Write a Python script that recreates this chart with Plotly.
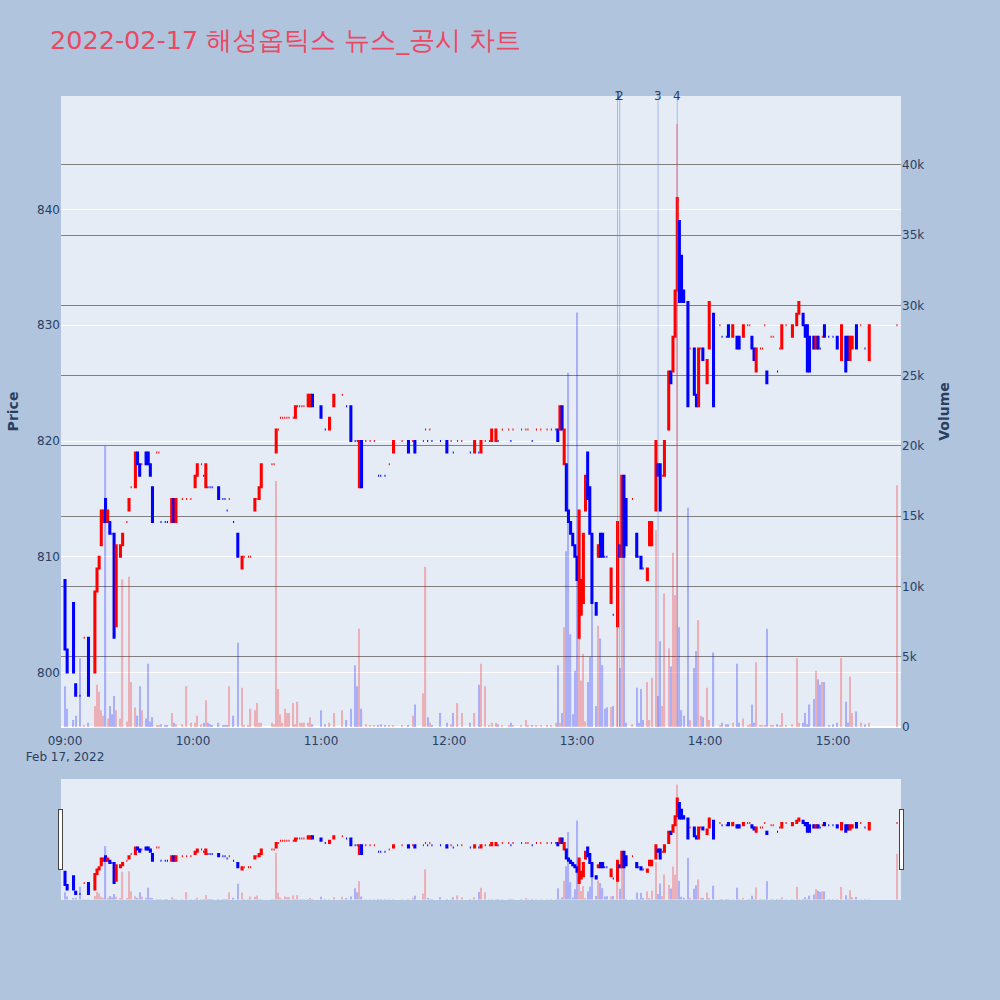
import plotly.graph_objects as go
from plotly.subplots import make_subplots

DATE = "2022-02-17"
TITLE = "2022-02-17 해성옵틱스 뉴스_공시 차트"

times = ["09:00","09:01","09:04","09:05","09:07","09:09","09:11","09:14","09:15","09:16","09:17","09:18","09:19","09:20","09:21","09:22","09:23","09:24","09:26","09:27","09:29","09:30","09:31","09:33","09:34","09:35","09:36","09:38","09:39","09:40","09:41","09:43","09:44","09:45","09:47","09:48","09:50","09:51","09:52","09:55","09:57","09:59",
         "10:01","10:02","10:04","10:05","10:06","10:07","10:08","10:09","10:12","10:14","10:15","10:16","10:17","10:19","10:21","10:23","10:24","10:26","10:27","10:29","10:30","10:31","10:32","10:37","10:38","10:39","10:40","10:41","10:42","10:43","10:44","10:45","10:47","10:48","10:49","10:50","10:51","10:52","10:54","10:55","10:56",
         "11:00","11:02","11:04","11:06","11:10","11:12","11:14","11:16","11:17","11:18","11:19","11:21","11:23","11:25","11:27","11:28","11:30","11:32","11:34","11:38","11:41","11:43","11:44","11:48","11:49","11:50","11:51","11:52","11:56","11:59",
         "12:01","12:02","12:04","12:06","12:10","12:12","12:14","12:15","12:17","12:19","12:20","12:22","12:23","12:25","12:28","12:29","12:30","12:34","12:36","12:37","12:39","12:41","12:43","12:46","12:48","12:50","12:51","12:52","12:53","12:54","12:55","12:56","12:57","12:58","12:59",
         "13:00","13:01","13:02","13:03","13:04","13:05","13:06","13:07","13:09","13:10","13:11","13:12","13:13","13:14","13:16","13:17","13:19","13:20","13:21","13:22","13:23","13:26","13:28","13:29","13:30","13:31","13:33","13:34","13:35","13:37","13:38","13:39","13:40","13:41","13:43","13:44","13:45","13:46","13:47","13:48","13:49","13:50","13:52","13:53","13:55","13:56","13:57","13:58","13:59",
         "14:01","14:02","14:04","14:07","14:08","14:10","14:11","14:13","14:15","14:16","14:18","14:20","14:21","14:22","14:23","14:24","14:26","14:27","14:28","14:29","14:31","14:32","14:34","14:35","14:36","14:38","14:41","14:43","14:44","14:46","14:47","14:48","14:49","14:51","14:52","14:53","14:54","14:55","14:56","14:58",
         "15:00","15:02","15:04","15:06","15:07","15:08","15:09","15:11","15:13","15:15","15:17","15:30"]

opens = [808,802,806,799,798,803,803,800,807,809,811,813,815,813,813,812,812,804,810,811,813,814,816,816,819,818,818,819,819,818,816,819,819,813,813,813,813,815,813,815,815,815,
         816,817,818,817,816,816,816,816,816,815,815,814,815,813,812,809,810,810,810,814,815,815,816,818,818,819,821,822,822,822,822,822,822,822,823,823,823,823,823,823,824,
         823,821,821,823,824,823,823,820,820,816,820,820,820,820,817,817,817,818,819,820,820,820,820,820,821,820,821,820,820,820,
         820,819,820,820,819,819,819,819,820,820,820,820,820,821,821,820,821,821,821,821,820,821,821,821,821,821,821,821,823,818,818,814,813,812,811,
         810,803,805,806,814,819,816,812,806,810,812,812,810,810,806,805,804,811,810,817,815,815,812,810,810,809,808,811,811,814,818,818,817,817,821,826,826,829,833,839,836,833,832,828,828,824,823,828,828,
         825,828,831,830,829,829,830,829,829,829,829,830,830,829,828,826,828,828,830,826,829,829,826,828,828,830,829,830,831,831,830,830,829,829,828,829,828,829,830,829,
         829,829,827,829,829,827,828,830,830,828,827,830]

closes = [802,800,800,798,798,803,798,807,809,810,814,814,813,814,812,812,803,811,811,812,813,815,816,819,818,817,818,818,818,817,813,819,819,813,813,813,815,813,815,815,815,815,
          817,818,818,817,818,816,816,816,815,815,815,814,815,813,810,810,810,810,810,815,815,816,818,818,818,821,821,822,822,822,822,822,822,823,823,823,823,823,824,824,823,
          822,821,822,824,824,823,820,820,820,820,816,820,820,820,817,817,817,818,820,820,819,820,819,820,821,820,821,820,820,819,
          820,819,820,820,819,820,819,820,820,820,821,821,820,821,821,820,821,821,821,821,820,821,821,821,821,821,820,823,821,821,814,813,812,811,810,
          808,814,808,812,817,815,812,806,805,811,810,810,810,810,809,805,813,810,817,810,811,815,810,810,809,809,809,813,813,820,817,814,817,820,826,825,829,833,841,832,832,832,823,828,824,823,828,828,827,
          827,832,823,830,829,829,829,830,828,828,830,830,830,828,827,828,828,828,830,825,829,829,826,828,830,830,830,831,832,830,829,826,826,828,829,828,828,829,829,829,
          829,828,830,826,827,829,829,828,830,828,830,830]

volumes = [2900,1300,500,800,4900,100,300,1500,3000,2500,1200,800,20000,600,1500,900,2200,1200,600,10500,400,10700,3200,1400,800,2900,1200,600,4500,400,700,100,100,200,100,100,1000,300,200,200,2900,300,
           300,800,200,300,1900,300,200,100,300,100,100,100,2900,800,6000,2800,100,100,1300,1200,1700,300,300,300,200,17500,2700,900,300,1300,1000,1000,1700,200,1800,300,300,300,300,700,200,
           1200,200,300,1000,1200,500,1300,4400,2900,7000,1300,200,100,100,100,200,100,100,100,100,100,800,1600,2400,11400,700,300,100,1000,300,
           200,1000,1700,1000,300,1000,3000,4500,2900,100,300,300,200,100,100,300,100,100,500,100,100,100,100,100,100,300,4400,300,1000,7100,12500,25200,6600,900,4000,
           29500,6300,3300,5200,400,3200,5000,12000,1500,7200,6300,4400,1300,1400,1400,1500,13300,4200,12100,12100,300,200,2800,300,2700,500,3200,500,3500,14000,2200,6100,1500,9500,5600,4300,12400,9400,42900,7100,1200,800,15600,500,4200,5400,7600,800,700,
           2800,500,5300,100,300,200,200,300,4500,300,600,100,200,1600,300,4600,100,100,100,7000,100,100,200,100,1000,100,200,4900,300,300,1000,200,1600,2000,4000,3400,3000,3200,3200,100,
           200,300,4900,1800,300,3600,1000,1100,300,200,300,17200]

news_times = ["13:19", "13:20", "13:38", "13:47"]
news_labels = ["1", "2", "3", "4"]

x = [f"{DATE} {t}:00" for t in times]
# no wicks are visible in the reference: high/low are the body edges
highs = [max(o, c) for o, c in zip(opens, closes)]
lows = [min(o, c) for o, c in zip(opens, closes)]

vol_colors = []
prev_c, prev_up = None, True
for o, c in zip(opens, closes):
    if c > o:
        up = True
    elif c < o:
        up = False
    elif prev_c is not None and c != prev_c:
        up = c > prev_c
    else:
        up = prev_up
    vol_colors.append("red" if up else "blue")
    prev_c, prev_up = c, up

fig = make_subplots(specs=[[{"secondary_y": True}]])
fig.add_trace(go.Candlestick(
    x=x, open=opens, high=highs, low=lows, close=closes, name="Price",
    increasing=dict(line=dict(color="red", width=2), fillcolor="red"),
    decreasing=dict(line=dict(color="blue", width=2), fillcolor="blue"),
), secondary_y=False)
fig.add_trace(go.Bar(
    x=x, y=volumes, name="Volume", width=35000,
    marker=dict(color=vol_colors, line=dict(width=0)), opacity=0.25,
), secondary_y=True)

for t, lab in zip(news_times, news_labels):
    xt = f"{DATE} {t}:00"
    fig.add_shape(type="line", xref="x", yref="paper", x0=xt, x1=xt, y0=0, y1=1,
                  line=dict(color="rgba(90,125,235,0.45)", width=1))
    fig.add_annotation(x=xt, y=1, xref="x", yref="paper", text=lab, showarrow=False,
                       yanchor="middle", xanchor="center",
                       font=dict(size=12, color="#2a3f5f"))

xr = [f"{DATE} 08:58:07", f"{DATE} 15:31:53"]
fig.update_layout(
    width=1000, height=1000,
    font=dict(family="DejaVu Sans"),
    paper_bgcolor="lightsteelblue",
    plot_bgcolor="#E5ECF6",
    showlegend=False,
    title=dict(text=TITLE, x=0.05, xanchor="left", y=0.96, yanchor="middle",
               font=dict(size=25.5, color="rgb(235,72,98)")),
    margin=dict(l=61, r=99, t=96, b=100),
    xaxis=dict(domain=[0, 1], range=xr, showgrid=False, ticks="outside", ticklen=3,
               tickcolor="rgba(0,0,0,0)",
               rangeslider=dict(visible=True, range=xr, bgcolor="#E5ECF6", thickness=0.15)),
)
fig.update_yaxes(title_text="<b>Price</b>", range=[795.3, 849.8], gridcolor="white",
                 automargin=False, secondary_y=False)
fig.update_yaxes(title_text="<b>Volume</b>", range=[0, 44900], gridcolor="grey",
                 showgrid=True, automargin=False, secondary_y=True)

fig.write_html("out.html", config={"displayModeBar": False},
               post_script="document.body.style.margin='0px';")
